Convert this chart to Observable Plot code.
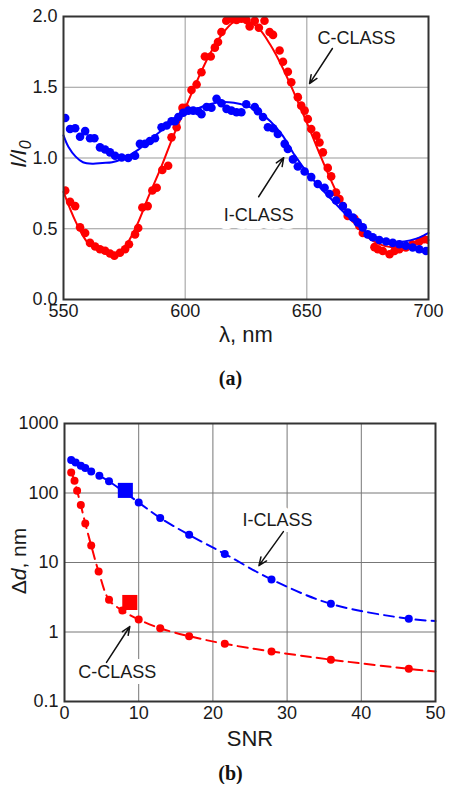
<!DOCTYPE html>
<html><head><meta charset="utf-8">
<script src="https://cdn.jsdelivr.net/npm/d3@7"></script>
<script src="https://cdn.jsdelivr.net/npm/@observablehq/plot@0.6"></script>
<style>
body{margin:0;background:#fff;font-family:"Liberation Sans",Arial,sans-serif;}
#wrap{width:451px;}
.cap{font-family:"Liberation Serif","Times New Roman",serif;font-weight:bold;font-size:20px;text-align:center;padding-left:10px;box-sizing:border-box;width:451px;color:#111;}
svg{display:block;}
svg text{font-family:"Liberation Sans",Arial,sans-serif;}
</style></head><body><div id="wrap"></div>
<script>
// ---------- (a) spectra ----------
const lambdaTicks = [550, 600, 650, 700];
const ratioTicks = [0, 0.5, 1.0, 1.5, 2.0];

const cClassDotsLambda = [550.7,552.7,554.8,556.8,558.9,560.9,563,565,567.1,569.1,570.9,573.2,575.3,576.9,579.4,580.7,582.4,584.6,586.5,588.3,590.6,593,594.4,596.5,598.9,600.2,602.6,604.7,606.7,608.1,610.5,612.2,613.5,614.9,616.9,619,621.1,623.1,625.2,626.5,628.6,630.3,632.6,634.7,636.1,638.8,640.2,642.2,643.6,646.3,647.7,649.1,650.4,651.8,653.9,655.2,656.6,658.6,660,662,663.4,664.8,666.8,669.6,671.6,673,677.8,679.2,681.2,684,686,688,690.7,693.4,696.2,698.2,700];
const cClassDotsRatio = [0.77,0.69,0.66,0.51,0.47,0.40,0.375,0.355,0.345,0.325,0.31,0.33,0.355,0.39,0.46,0.505,0.65,0.66,0.77,0.79,0.915,0.945,1.146,1.217,1.354,1.354,1.48,1.52,1.606,1.717,1.717,1.78,1.82,1.89,1.97,1.985,1.975,1.985,1.975,1.93,1.97,1.92,1.97,1.89,1.87,1.76,1.68,1.61,1.535,1.43,1.37,1.335,1.276,1.205,1.158,1.11,1.04,0.93,0.87,0.756,0.71,0.66,0.59,0.57,0.52,0.47,0.37,0.355,0.343,0.32,0.343,0.355,0.367,0.39,0.41,0.426,0.42];

const cClassFitLambda = [550,555,560,565,570,575,580,585,590,595,600,605,610,615,620,625,630,635,640,645,650,655,660,665,670,675,680,685,690,695,700];
const cClassFitRatio = [0.76,0.55,0.40,0.34,0.32,0.37,0.52,0.73,0.93,1.15,1.35,1.55,1.73,1.87,1.96,1.97,1.92,1.80,1.64,1.45,1.25,1.04,0.84,0.66,0.53,0.44,0.39,0.37,0.38,0.40,0.42];

const iClassDotsLambda = [550.7,552.7,554.8,556.8,558.9,560.9,562.7,565,567.1,569.1,571.2,573.9,576.6,579.4,581.4,583.5,585.5,587.6,590.3,592.4,594.4,595.8,597.2,599.2,601.3,603.3,605.4,606.7,608.8,610.8,612.9,614.9,617,619,621.1,623.1,625.1,628.6,629.9,632,634,636.1,638.1,640.9,642.2,644.3,646.3,649.1,651.8,654.5,657.3,659.3,662,664.8,666.8,668.9,670.9,673,675,677.1,679.8,682.6,685.3,688,690.7,693.5,696.2,699];
const iClassDotsRatio = [1.283,1.205,1.21,1.15,1.19,1.14,1.14,1.075,1.06,1.04,1.016,1.004,1.0,1.016,1.10,1.10,1.12,1.14,1.217,1.23,1.26,1.26,1.29,1.32,1.335,1.335,1.33,1.31,1.36,1.355,1.418,1.387,1.347,1.335,1.323,1.323,1.38,1.36,1.33,1.29,1.217,1.21,1.17,1.10,1.064,0.99,0.94,0.905,0.865,0.816,0.79,0.745,0.70,0.66,0.615,0.58,0.545,0.51,0.46,0.44,0.42,0.41,0.40,0.39,0.38,0.367,0.355,0.343];

const iClassFitLambda = [550,552,555,558,562,566,570,575,580,585,590,595,600,605,610,615,620,625,630,635,640,645,650,655,660,665,670,675,680,685,690,695,700];
const iClassFitRatio = [1.16,1.08,1.01,0.97,0.96,0.965,0.97,1.0,1.05,1.12,1.19,1.27,1.32,1.35,1.38,1.395,1.39,1.37,1.33,1.26,1.16,1.02,0.90,0.80,0.71,0.62,0.54,0.47,0.43,0.41,0.41,0.43,0.47];

const labelsA = ["C-CLASS", "I-CLASS"];
const labelsALambda = [670.4, 630.2];
const labelsARatio = [1.845, 0.596];
const arrowsAFrom = [[660.5, 1.774], [630.2, 0.726]];
const arrowsATo = [[651.1, 1.526], [640.5, 1.002]];

// ---------- (b) resolution vs SNR ----------
const snrTicks = [0, 10, 20, 30, 40, 50];
const ddTicks = [0.1, 1, 10, 100, 1000];

const iClassSnr = [0.9,1.5,2.2,2.8,3.6,4.7,6.0,10.0,12.9,16.8,21.6,27.9,35.9,46.4];
const iClassDd  = [298,275,247,229,204,177,147,73,43.7,25,13.3,5.7,2.54,1.55];
const iClassCurveSnr = [0.9,1.5,2.2,2.8,3.6,4.7,6.0,10.0,12.9,16.8,21.6,27.9,35.9,46.4,50];
const iClassCurveDd  = [298,275,247,229,204,177,147,73,43.7,25,13.3,5.7,2.54,1.55,1.44];

const cClassSnr = [0.9,1.35,1.7,2.2,2.8,3.6,4.6,6.0,7.8,10.0,12.9,16.8,21.6,27.9,35.9,46.4];
const cClassDd  = [198,150,108,67,36.5,17.5,7.4,2.9,2.04,1.51,1.13,0.87,0.676,0.525,0.40,0.295];
const cClassCurveSnr = [0.9,1.35,1.7,2.2,2.8,3.6,4.6,6.0,7.8,10.0,12.9,16.8,21.6,27.9,35.9,46.4,50];
const cClassCurveDd  = [198,150,108,67,36.5,17.5,7.4,2.9,2.04,1.51,1.13,0.87,0.676,0.525,0.40,0.295,0.27];

const squareSnr = [8.2, 8.8];
const squareDd = [109, 2.66];
const squareColor = ["#0000ff", "#ff0000"];

const labelsB = ["I-CLASS", "C-CLASS"];
const labelsBSnr = [28.7, 7.1];
const labelsBDd = [40.9, 0.264];
const arrowsBFrom = [[29.5, 27.8], [5.66, 0.365]];
const arrowsBTo = [[26.2, 9.0], [8.8, 1.2]];

const RED = "#ff0000", BLUE = "#0000ff";
const INK = "#1a1a1a";
const idx = n => d3.range(n);

const baseStyle = {fontFamily: "'Liberation Sans', Arial, sans-serif", fontSize: "18px", color: INK, background: "white"};

const p1 = Plot.plot({
  width: 451, height: 362, marginTop: 16, marginBottom: 63, marginLeft: 63, marginRight: 23,
  style: baseStyle,
  x: {domain: [550, 700]},
  y: {domain: [0, 2]},
  marks: [
    Plot.gridX(lambdaTicks, {stroke: "#999", strokeOpacity: 1, strokeWidth: 1}),
    Plot.gridY(ratioTicks, {stroke: "#999", strokeOpacity: 1, strokeWidth: 1}),
    Plot.axisX({ticks: lambdaTicks, tickSize: 0, tickPadding: 5, label: null, tickFormat: d => String(d), fontSize: 18, fill: INK}),
    Plot.axisY({ticks: ratioTicks, tickSize: 0, tickPadding: 6, label: null, tickFormat: d3.format(".1f"), fontSize: 18, fill: INK}),
    Plot.text(idx(2), {x: i => labelsALambda[i], y: i => labelsARatio[i], text: i => labelsA[i], fontSize: 18, fill: INK, stroke: "white", strokeWidth: 16}),
    Plot.line(idx(cClassFitLambda.length), {x: i => cClassFitLambda[i], y: i => cClassFitRatio[i], stroke: RED, strokeWidth: 2, curve: "catmull-rom"}),
    Plot.dot(idx(cClassDotsLambda.length), {x: i => cClassDotsLambda[i], y: i => cClassDotsRatio[i], fill: RED, r: 4.3, clip: true}),
    Plot.line(idx(iClassFitLambda.length), {x: i => iClassFitLambda[i], y: i => iClassFitRatio[i], stroke: BLUE, strokeWidth: 2, curve: "catmull-rom"}),
    Plot.dot(idx(iClassDotsLambda.length), {x: i => iClassDotsLambda[i], y: i => iClassDotsRatio[i], fill: BLUE, r: 4.3, clip: true}),
    Plot.arrow(idx(2), {x1: i => arrowsAFrom[i][0], y1: i => arrowsAFrom[i][1], x2: i => arrowsATo[i][0], y2: i => arrowsATo[i][1], stroke: "#111", strokeWidth: 1.5, headLength: 9, headAngle: 45}),
    Plot.frame({stroke: "#333", strokeWidth: 2}),
    Plot.text(["λ, nm"], {frameAnchor: "bottom", dy: 42, fontSize: 22, fill: INK})
  ]
});

const p2 = Plot.plot({
  width: 451, height: 367, marginTop: 28, marginBottom: 61, marginLeft: 64, marginRight: 16,
  style: baseStyle,
  x: {domain: [0, 50]},
  y: {type: "log", domain: [0.1, 1000]},
  marks: [
    Plot.gridX(snrTicks, {stroke: "#777", strokeOpacity: 1, strokeWidth: 1}),
    Plot.gridY(ddTicks, {stroke: "#777", strokeOpacity: 1, strokeWidth: 1}),
    Plot.axisX({ticks: snrTicks, tickSize: 0, tickPadding: 5, label: null, tickFormat: d => String(d), fontSize: 18, fill: INK}),
    Plot.axisY({ticks: ddTicks, tickSize: 0, tickPadding: 6, label: null, tickFormat: d => String(d), fontSize: 18, fill: INK}),
    Plot.text(idx(2), {x: i => labelsBSnr[i], y: i => labelsBDd[i], text: i => labelsB[i], fontSize: 18, fill: INK, stroke: "white", strokeWidth: 12}),
    Plot.line(idx(iClassCurveSnr.length), {x: i => iClassCurveSnr[i], y: i => iClassCurveDd[i], stroke: BLUE, strokeWidth: 2, strokeDasharray: "10,6", curve: "catmull-rom"}),
    Plot.line(idx(cClassCurveSnr.length), {x: i => cClassCurveSnr[i], y: i => cClassCurveDd[i], stroke: RED, strokeWidth: 2, strokeDasharray: "10,6", curve: "catmull-rom"}),
    Plot.dot(idx(iClassSnr.length), {x: i => iClassSnr[i], y: i => iClassDd[i], fill: BLUE, r: 4}),
    Plot.dot(idx(cClassSnr.length), {x: i => cClassSnr[i], y: i => cClassDd[i], fill: RED, r: 4}),
    Plot.dot(idx(2), {x: i => squareSnr[i], y: i => squareDd[i], fill: i => squareColor[i], symbol: "square", r: 8.5}),
    Plot.arrow(idx(2), {x1: i => arrowsBFrom[i][0], y1: i => arrowsBFrom[i][1], x2: i => arrowsBTo[i][0], y2: i => arrowsBTo[i][1], stroke: "#111", strokeWidth: 1.5, headLength: 9, headAngle: 45}),
    Plot.frame({stroke: "#333", strokeWidth: 2}),
    Plot.text(["SNR"], {frameAnchor: "bottom", dy: 44, fontSize: 22, fill: INK})
  ]
});

// rich y-axis titles
const t1 = d3.select(p1).append("text")
  .attr("transform", "translate(26,154) rotate(-90)")
  .attr("text-anchor", "middle").attr("fill", INK)
  .style("font-size", "22px").style("font-style", "italic");
t1.append("tspan").text("I/I");
t1.append("tspan").attr("dy", "0.3em").style("font-size", "16px").text("0");

const t2 = d3.select(p2).append("text")
  .attr("transform", "translate(26,166) rotate(-90)")
  .attr("text-anchor", "middle").attr("fill", INK)
  .style("font-size", "21px");
t2.append("tspan").text("Δ");
t2.append("tspan").style("font-style", "italic").text("d");
t2.append("tspan").text(", nm");

const wrap = document.getElementById("wrap");
wrap.appendChild(p1);
const capA = document.createElement("div");
capA.className = "cap"; capA.style.height = "33px"; capA.style.lineHeight = "33px"; capA.textContent = "(a)";
wrap.appendChild(capA);
wrap.appendChild(p2);
const capB = document.createElement("div");
capB.className = "cap"; capB.style.height = "22px"; capB.style.lineHeight = "22px"; capB.textContent = "(b)";
wrap.appendChild(capB);
</script>
</body></html>
